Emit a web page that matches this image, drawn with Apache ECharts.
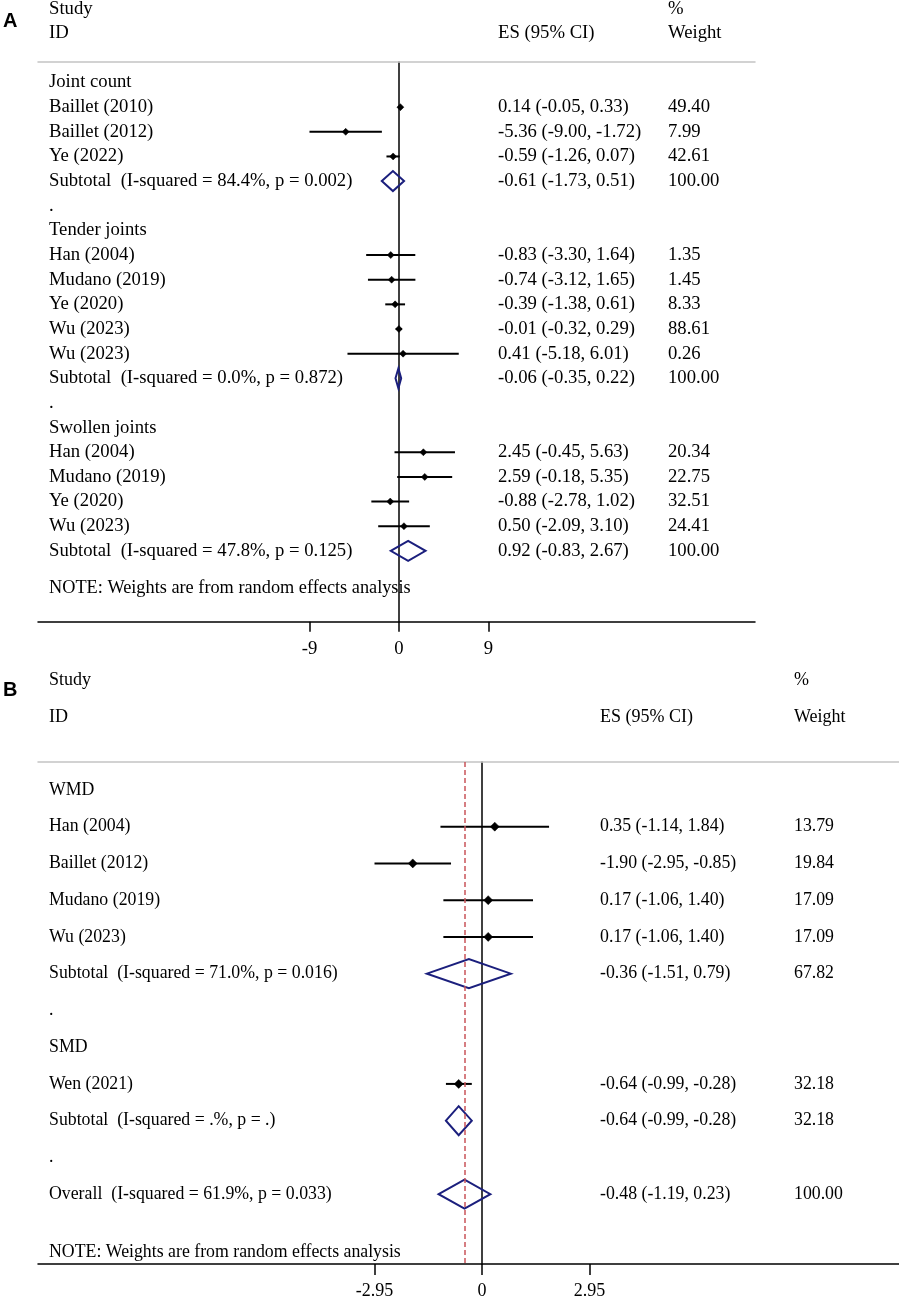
<!DOCTYPE html>
<html><head><meta charset="utf-8">
<script src="https://cdn.jsdelivr.net/npm/echarts@6/dist/echarts.min.js"></script>
<style>html,body{margin:0;padding:0;background:#fff}#c{width:899px;height:1300px}</style>
</head><body><div id="c"></div><script>
// ---------- Panel A data ----------
const rowsA = ['Joint count','Baillet (2010)','Baillet (2012)','Ye (2022)','Subtotal  (I-squared = 84.4%, p = 0.002)','.',
  'Tender joints','Han (2004)','Mudano (2019)','Ye (2020)','Wu (2023)','Wu (2023)','Subtotal  (I-squared = 0.0%, p = 0.872)','.',
  'Swollen joints','Han (2004)','Mudano (2019)','Ye (2020)','Wu (2023)','Subtotal  (I-squared = 47.8%, p = 0.125)'];
const kindA = ['h','s','s','s','p','d','h','s','s','s','s','s','p','d','h','s','s','s','s','p'];
const esA = [null,0.14,-5.36,-0.59,-0.61,null,null,-0.83,-0.74,-0.39,-0.01,0.41,-0.06,null,null,2.45,2.59,-0.88,0.50,0.92];
const loA = [null,-0.05,-9.00,-1.26,-1.73,null,null,-3.30,-3.12,-1.38,-0.32,-5.18,-0.35,null,null,-0.45,-0.18,-2.78,-2.09,-0.83];
const hiA = [null,0.33,-1.72,0.07,0.51,null,null,1.64,1.65,0.61,0.29,6.01,0.22,null,null,5.63,5.35,1.02,3.10,2.67];
const wtA = [null,49.40,7.99,42.61,100.00,null,null,1.35,1.45,8.33,88.61,0.26,100.00,null,null,20.34,22.75,32.51,24.41,100.00];
const ticksA = [-9, 0, 9];

// ---------- Panel B data ----------
const rowsB = ['WMD','Han (2004)','Baillet (2012)','Mudano (2019)','Wu (2023)','Subtotal  (I-squared = 71.0%, p = 0.016)','.',
  'SMD','Wen (2021)','Subtotal  (I-squared = .%, p = .)','.','Overall  (I-squared = 61.9%, p = 0.033)'];
const kindB = ['h','s','s','s','s','p','d','h','s','p','d','p'];
const esB = [null,0.35,-1.90,0.17,0.17,-0.36,null,null,-0.64,-0.64,null,-0.48];
const loB = [null,-1.14,-2.95,-1.06,-1.06,-1.51,null,null,-0.99,-0.99,null,-1.19];
const hiB = [null,1.84,-0.85,1.40,1.40,0.79,null,null,-0.28,-0.28,null,0.23];
const wtB = [null,13.79,19.84,17.09,17.09,67.82,null,null,32.18,32.18,null,100.00];
const ticksB = [-2.95, 0, 2.95];
const overallB = esB[11];

const FONT = '"Liberation Serif","Times New Roman",serif';
const NAVY = '#1b1f7d';
const fmt = v => v.toFixed(2);

function makeRender(P) {
  return function (params, api) {
    const i = params.dataIndex;
    const y = api.coord([0, i])[1];
    const kids = [];
    const txt = (x, text) => ({type:'text', x:x, y:y, silent:true,
      style:{text:text, fill:'#000', fontSize:P.fs, fontFamily:FONT, align:'left', verticalAlign:'middle'}});
    kids.push(txt(P.xLabel, P.rows[i]));
    const es = P.es[i];
    if (es != null) {
      const lo = P.lo[i], hi = P.hi[i];
      const xe = api.coord([es, i])[0], xl = api.coord([lo, i])[0], xh = api.coord([hi, i])[0];
      if (P.kind[i] === 's') {
        kids.push({type:'line', silent:true, shape:{x1:xl, y1:y, x2:xh, y2:y}, style:{stroke:'#000', lineWidth:P.ciW}});
        const m = P.mk;
        kids.push({type:'polygon', silent:true, shape:{points:[[xe-m,y],[xe,y-m],[xe+m,y],[xe,y+m]]},
          style:{fill:'#000', stroke:'#000', lineWidth:0.5}});
      } else {
        const d = P.dh;
        kids.push({type:'polygon', silent:true, shape:{points:[[xl,y],[xe,y-d],[xh,y],[xe,y+d]]},
          style:{fill:'none', stroke:NAVY, lineWidth:2}});
      }
      kids.push(txt(P.xES, fmt(es) + ' (' + fmt(lo) + ', ' + fmt(hi) + ')'));
      kids.push(txt(P.xWt, fmt(P.wt[i])));
    }
    return {type:'group', children:kids};
  };
}

function bottomAxis(grid, min, max, ticks, tickLen, margin, fs) {
  return {gridIndex:grid, type:'value', min:min, max:max, position:'bottom',
    axisLine:{onZero:false, lineStyle:{color:'#000', width:1.5}},
    axisTick:{show:true, customValues:ticks, length:tickLen, lineStyle:{color:'#000', width:1.5}},
    axisLabel:{show:true, customValues:ticks, margin:margin, fontFamily:FONT, fontSize:fs, color:'#000'},
    splitLine:{show:false}};
}
function topAxis(grid, min, max) {
  return {gridIndex:grid, type:'value', min:min, max:max, position:'top',
    axisLine:{onZero:false, lineStyle:{color:'#c4c4c4', width:1.5}},
    axisTick:{show:false}, axisLabel:{show:false}, splitLine:{show:false}};
}
function rowAxis(grid, min, max) {
  return {gridIndex:grid, type:'value', inverse:true, min:min, max:max,
    axisLine:{show:true, onZero:true, lineStyle:{color:'#000', width:1.5}},
    axisTick:{show:false}, axisLabel:{show:false}, splitLine:{show:false}};
}
function hdr(x, y, text, fs) {
  return {type:'text', x:x, y:y, silent:true,
    style:{text:text, fill:'#000', fontSize:fs, fontFamily:FONT, align:'left', verticalAlign:'middle'}};
}

const chart = echarts.init(document.getElementById('c'), null, {renderer:'canvas'});
chart.setOption({
  animation:false,
  backgroundColor:'#fff',
  grid:[{left:38, right:144, top:62, height:559.7}, {left:38, right:0, top:762, height:504}],
  xAxis:[bottomAxis(0, -36.3, 35.8, ticksA, 10, 18, 18.7), topAxis(0, -36.3, 35.8),
         bottomAxis(1, -12.184, 11.443, ticksB, 11, 18, 18), topAxis(1, -12.184, 11.443)],
  yAxis:[rowAxis(0, -0.832, 21.874), rowAxis(1, -0.759, 12.9)],
  graphic:[
    {type:'text', x:3, y:21, silent:true, style:{text:'A', fill:'#000', fontSize:20, fontWeight:'bold', fontFamily:'"Liberation Sans",Arial,sans-serif', verticalAlign:'middle'}},
    hdr(49, 9, 'Study', 18.7), hdr(49, 33, 'ID', 18.7), hdr(498, 33, 'ES (95% CI)', 18.7), hdr(668, 9, '%', 18.7), hdr(668, 33, 'Weight', 18.7),
    hdr(49, 588, 'NOTE: Weights are from random effects analysis', 18.3),
    {type:'text', x:3, y:690, silent:true, style:{text:'B', fill:'#000', fontSize:20, fontWeight:'bold', fontFamily:'"Liberation Sans",Arial,sans-serif', verticalAlign:'middle'}},
    hdr(49, 680, 'Study', 18), hdr(49, 717, 'ID', 18), hdr(600, 717, 'ES (95% CI)', 18), hdr(794, 680, '%', 18), hdr(794, 717, 'Weight', 18),
    hdr(49, 1252, 'NOTE: Weights are from random effects analysis', 17.8)
  ],
  series:[
    {type:'custom', xAxisIndex:0, yAxisIndex:0, clip:false, silent:true,
      data: rowsA.map((_, i) => [0, i]), encode:{x:0, y:1},
      renderItem: makeRender({rows:rowsA, kind:kindA, es:esA, lo:loA, hi:hiA, wt:wtA, fs:18.7, xLabel:49, xES:498, xWt:668, ciW:2, mk:3.5, dh:10})},
    {type:'custom', xAxisIndex:2, yAxisIndex:1, clip:false, silent:true,
      data: rowsB.map((_, i) => [0, i]), encode:{x:0, y:1},
      renderItem: makeRender({rows:rowsB, kind:kindB, es:esB, lo:loB, hi:hiB, wt:wtB, fs:17.8, xLabel:49, xES:600, xWt:794, ciW:2, mk:4.5, dh:14.5})},
    {type:'line', xAxisIndex:2, yAxisIndex:1, data:[], silent:true,
      markLine:{silent:true, symbol:'none', label:{show:false},
        lineStyle:{color:'#c9545a', type:[5,3], width:1.5}, data:[{xAxis: overallB}]}}
  ]
});
</script></body></html>
